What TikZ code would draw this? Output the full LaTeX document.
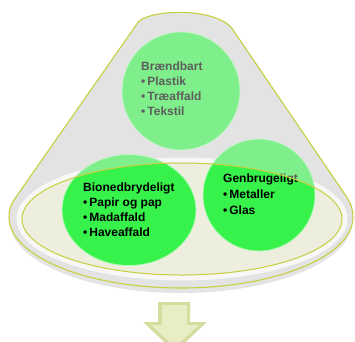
\documentclass[tikz,border=0pt]{standalone}
\usepackage{fontspec}
\setmainfont{Liberation Sans}
\usetikzlibrary{shapes.geometric}
\definecolor{kant}{RGB}{198,208,62}
\definecolor{kegle}{RGB}{222,222,222}
\definecolor{bund}{RGB}{237,238,222}
\definecolor{groen}{RGB}{55,242,75}
\definecolor{pil}{RGB}{212,221,158}
\definecolor{pillys}{RGB}{232,238,196}
\begin{document}
\begin{tikzpicture}[x=1pt,y=-1pt,line join=round,line cap=round,
	txt/.style={font=\fontsize{12}{15}\selectfont\bfseries,align=left,inner sep=0pt,anchor=north west},
	ball/.style={fill=groen,draw=white!60!groen,line width=0.8pt,inner sep=0pt}]
	\useasboundingbox (0,0) rectangle (355,341);
	\clip (0,0) rectangle (355,341);
	% skygge og kegle
	\fill[black!30,opacity=0.35] (181,222) ellipse[x radius=171,y radius=71];
	\fill[kegle] (9,217) .. controls (9,211) and (10,205) .. (16,197) -- (139,21) .. controls (155,9) and (212,8) .. (231,27) -- (346,196) .. controls (352,205) and (353,211) .. (353,217) .. controls (353,256) and (276,288) .. (181,288) .. controls (86,288) and (9,256) .. (9,217) -- cycle;
	\draw[white,line width=5pt] (182,219) ellipse[x radius=163,y radius=59];
	\fill[bund] (182,219) ellipse[x radius=160,y radius=56];
	% kugler
	\node[ball,circle,minimum size=118pt] (braend) at (181,91) {};
	\node[ball,ellipse,minimum width=134pt,minimum height=111pt] (bio) at (129,210) {};
	\node[ball,circle,minimum size=112pt] (genbrug) at (259,195) {};
	\node[txt] (braendtxt) at (141,62) {Brændbart\\•\,Plastik\\•\,Træaffald\\•\,Tekstil};
	\node[txt] (biotxt) at (83,183) {Bionedbrydeligt\\•\,Papir og pap\\•\,Madaffald\\•\,Haveaffald};
	\node[txt] (genbrugtxt) at (223,174) {Genbrugeligt\\[1pt]•\,Metaller\\[1pt]•\,Glas};
	% slør over keglen uden for bunden
	\fill[white!92!black,opacity=0.4,even odd rule] (9,217) .. controls (9,211) and (10,205) .. (16,197) -- (139,21) .. controls (155,9) and (212,8) .. (231,27) -- (346,196) .. controls (352,205) and (353,211) .. (353,217) .. controls (353,256) and (276,288) .. (181,288) .. controls (86,288) and (9,256) .. (9,217) -- cycle (182,219) ellipse[x radius=160,y radius=56];
	\draw[kant,line width=1pt] (182,219) ellipse[x radius=160,y radius=56];
	\draw[kant,line width=1.1pt] (9,217) .. controls (9,211) and (10,205) .. (16,197) -- (139,21) .. controls (155,9) and (212,8) .. (231,27) -- (346,196) .. controls (352,205) and (353,211) .. (353,217) .. controls (353,256) and (276,288) .. (181,288) .. controls (86,288) and (9,256) .. (9,217) -- cycle;
	% pil
	\fill[pil] (158,302) -- (190,302) -- (190,322) -- (207,322) -- (175,352) -- (143,322) -- (158,322) -- cycle;
	\fill[pillys] (162,305) -- (187,305) -- (187,325) -- (199,325) -- (175,347) -- (151,325) -- (162,325) -- cycle;
\end{tikzpicture}
\end{document}
